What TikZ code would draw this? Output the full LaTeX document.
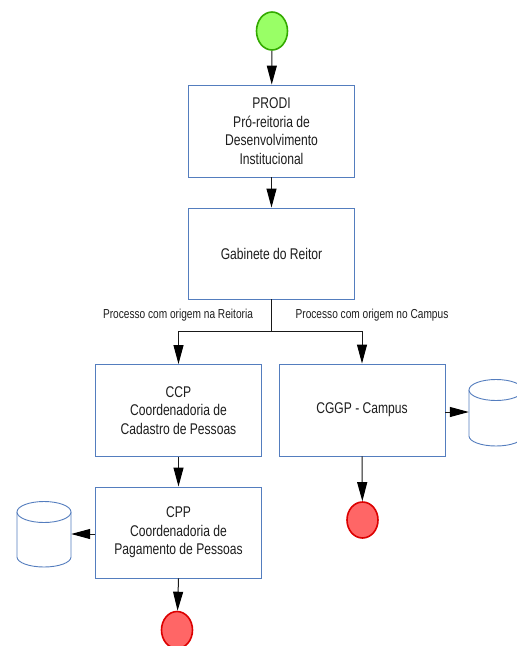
\documentclass[tikz,border=0pt]{standalone}
\usepackage{fontspec}
\setmainfont{Liberation Sans}
\newfontfamily\narrowsans[FakeStretch=0.78]{Liberation Sans}
\usetikzlibrary{arrows.meta,shapes.geometric}
\definecolor{boxblue}{RGB}{84,125,190}
\definecolor{startfill}{RGB}{153,255,102}
\definecolor{startline}{RGB}{51,170,0}
\definecolor{endfill}{RGB}{255,102,102}
\definecolor{endline}{RGB}{220,0,0}
\definecolor{inktext}{RGB}{30,30,30}

\begin{document}
\begin{tikzpicture}[x=1bp,y=-1bp,
  procbox/.style={draw=boxblue, line width=0.9bp, fill=white,
    minimum width=166bp, minimum height=91bp, inner sep=0pt,
    align=center, text=inktext,
    font=\narrowsans\fontsize{15.5bp}{18.5bp}\selectfont},
  startev/.style={ellipse, draw=startline, line width=1.6bp, fill=startfill,
    minimum width=31bp, minimum height=38bp, inner sep=0pt},
  endev/.style={ellipse, draw=endline, line width=1.6bp, fill=endfill,
    minimum width=31bp, minimum height=37bp, inner sep=0pt},
  storeframe/.style={rectangle, minimum width=54bp, minimum height=66bp, inner sep=0pt},
  storeline/.style={draw=boxblue, line width=0.9bp, fill=white},
  wire/.style={draw=black!90, line width=1bp},
  flow/.style={wire, -{Triangle[length=19bp,width=10bp,color=black]}},
  branchlabel/.style={font=\narrowsans\fontsize{13bp}{14bp}\selectfont,
    text=inktext, inner sep=0pt}
]
\useasboundingbox (0,0) rectangle (517,646);

% events
\node[startev] (start) at (272,31) {};
\node[endev] (endA) at (177,630) {};
\node[endev, minimum height=36bp] (endB) at (362.5,520) {};

% process boxes
\node[procbox, minimum height=92bp] (prodi) at (271.5,131)
  {PRODI\\Pró-reitoria de\\Desenvolvimento\\Institucional};
\node[procbox] (gab) at (271.5,253.5) {Gabinete do Reitor};
\node[procbox, minimum height=92bp] (ccp) at (178.5,410.5)
  {CCP\\Coordenadoria de\\Cadastro de Pessoas};
\node[procbox, minimum height=92bp] (cggp) at (362,410) {CGGP - Campus};
\node[procbox] (cpp) at (178.5,532.5)
  {CPP\\Coordenadoria de\\Pagamento de Pessoas};

% data stores: frame nodes plus the drawn cylinder
\node[storeframe] (dbA) at (44,534.5) {};
\filldraw[storeline] (17,512) -- (17,557)
  arc[start angle=180, end angle=0, x radius=27, y radius=10] -- (71,512);
\filldraw[storeline] (44,512) ellipse[x radius=27, y radius=10.5];

\node[storeframe] (dbB) at (496,413) {};
\filldraw[storeline] (469,390) -- (469,436)
  arc[start angle=180, end angle=0, x radius=27, y radius=10] -- (523,390);
\filldraw[storeline] (496,390) ellipse[x radius=27, y radius=10.5];

% main flow
\draw[flow] (start) -- (prodi);
\draw[flow] (prodi) -- (gab);
\coordinate (split) at (271.5,331);
\draw[wire] (gab.south) -- (split);
\draw[flow] (split) -| (ccp.north);
\draw[flow] (split) -| (cggp.north);
\draw[flow] (ccp) -- (cpp);
\draw[flow] (cpp.south) -- (endA);
\draw[flow] (cggp.south) -- (endB);

% storage
\draw[flow] ([yshift=-1.5bp]cpp.west) -- ([yshift=-1.5bp]cpp.west -| dbA.east);
\draw[flow] ([yshift=-2bp]cggp.east) -- ([yshift=-2bp]cggp.east -| dbB.west);

% branch labels
\node[branchlabel] (lblR) at (178,315) {Processo com origem na Reitoria};
\node[branchlabel] (lblC) at (372,315) {Processo com origem no Campus};
\end{tikzpicture}
\end{document}
